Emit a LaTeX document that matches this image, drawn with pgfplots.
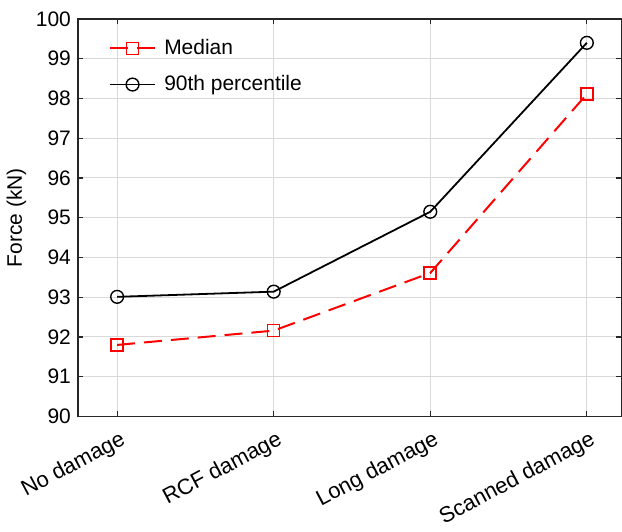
\documentclass[border=0pt]{standalone}
\usepackage{fontspec}
\setmainfont{Liberation Sans}
\usepackage{pgfplots}
\pgfplotsset{compat=1.18}
\begin{document}
\begin{tikzpicture}
\begin{axis}[
  scale only axis,
  width=272pt, height=199pt,
  xmin=-0.25, xmax=3.22,
  ymin=90, ymax=100,
  xtick={0,1,2,3},
  xticklabels={No damage, RCF damage, Long damage, Scanned damage},
  ytick={90,91,...,100},
  x tick label style={rotate=28, anchor=north east, font=\fontsize{11}{12}\selectfont, inner sep=1pt, yshift=-5pt, xshift=-1pt},
  y tick label style={font=\fontsize{10.5}{12}\selectfont},
  /pgf/number format/assume math mode=true,
  ylabel={Force (kN)},
  ylabel style={font=\fontsize{10.5}{12}\selectfont, yshift=-2pt},
  grid=major,
  major grid style={gray!30, line width=0.5pt},
  axis line style={black!85, line width=0.7pt},
  tick align=inside,
  tick pos=both,
  major tick length=2.5pt,
  tick style={black!85, line width=0.6pt},
  legend style={draw=none, fill=none, at={(0.045,0.97)}, anchor=north west,
    font=\fontsize{10.5}{12}\selectfont, row sep=5pt},
  legend cell align=left,
  legend image code/.code={
    \draw[#1] (0cm,0cm) -- (0.8cm,0cm);
    \draw[#1, solid] plot coordinates {(0.4cm,0cm)};
  },
]
\addplot[red, line width=1pt, dash pattern=on 9pt off 4.5pt, mark=square, mark size=3pt, mark options={solid, line width=0.8pt}]
  coordinates {(0,91.80) (1,92.16) (2,93.61) (3,98.11)};
\addlegendentry{\hspace{2pt}Median}
\addplot[black, line width=0.9pt, mark=o, mark size=3.2pt, mark options={solid, line width=0.7pt}]
  coordinates {(0,93.01) (1,93.14) (2,95.15) (3,99.40)};
\addlegendentry{\hspace{2pt}90th percentile}
\end{axis}
\path ([yshift=9.5pt]current axis.north);
\end{tikzpicture}
\end{document}
